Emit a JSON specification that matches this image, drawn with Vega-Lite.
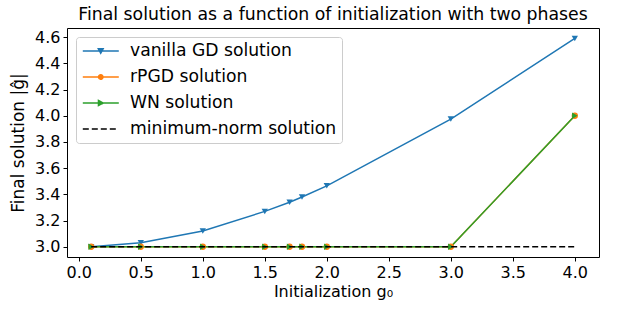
{
  "$schema": "https://vega.github.io/schema/vega-lite/v6.json",
  "width": 532,
  "height": 229,
  "autosize": {"type": "none"},
  "padding": {"left": 67, "top": 28, "right": 24, "bottom": 55},
  "background": "white",
  "title": {"text": "Final solution as a function of initialization with two phases", "fontSize": 17.3, "fontWeight": "normal", "font": "DejaVu Sans", "color": "black", "offset": 5},
  "config": {
    "view": {"stroke": "black", "strokeWidth": 1},
    "axis": {"domain": false, "grid": false, "tickColor": "black", "tickSize": 4, "tickWidth": 1, "labelFont": "DejaVu Sans", "labelFontSize": 16, "labelColor": "black", "titleFont": "DejaVu Sans", "titleFontSize": 16, "titleFontWeight": "normal", "titleColor": "black"}
  },
  "data": {"values": [
    {"series": "vanilla GD solution", "x": 0.1, "y": 3.0},
    {"series": "vanilla GD solution", "x": 0.5, "y": 3.03},
    {"series": "vanilla GD solution", "x": 1.0, "y": 3.12},
    {"series": "vanilla GD solution", "x": 1.5, "y": 3.27},
    {"series": "vanilla GD solution", "x": 1.7, "y": 3.34},
    {"series": "vanilla GD solution", "x": 1.8, "y": 3.38},
    {"series": "vanilla GD solution", "x": 2.0, "y": 3.465},
    {"series": "vanilla GD solution", "x": 3.0, "y": 3.975},
    {"series": "vanilla GD solution", "x": 4.0, "y": 4.59},
    {"series": "rPGD solution", "x": 0.1, "y": 3.0},
    {"series": "rPGD solution", "x": 0.5, "y": 3.0},
    {"series": "rPGD solution", "x": 1.0, "y": 3.0},
    {"series": "rPGD solution", "x": 1.5, "y": 3.0},
    {"series": "rPGD solution", "x": 1.7, "y": 3.0},
    {"series": "rPGD solution", "x": 1.8, "y": 3.0},
    {"series": "rPGD solution", "x": 2.0, "y": 3.0},
    {"series": "rPGD solution", "x": 3.0, "y": 3.0},
    {"series": "rPGD solution", "x": 4.0, "y": 4.0},
    {"series": "WN solution", "x": 0.1, "y": 3.0},
    {"series": "WN solution", "x": 0.5, "y": 3.0},
    {"series": "WN solution", "x": 1.0, "y": 3.0},
    {"series": "WN solution", "x": 1.5, "y": 3.0},
    {"series": "WN solution", "x": 1.7, "y": 3.0},
    {"series": "WN solution", "x": 1.8, "y": 3.0},
    {"series": "WN solution", "x": 2.0, "y": 3.0},
    {"series": "WN solution", "x": 3.0, "y": 3.0},
    {"series": "WN solution", "x": 4.0, "y": 4.0},
    {"series": "minimum-norm solution", "x": 0.1, "y": 3.0},
    {"series": "minimum-norm solution", "x": 4.0, "y": 3.0}
  ]},
  "encoding": {
    "x": {"field": "x", "type": "quantitative", "title": "Initialization g₀",
      "scale": {"domain": [-0.095, 4.195], "nice": false, "zero": false},
      "axis": {"values": [0, 0.5, 1, 1.5, 2, 2.5, 3, 3.5, 4], "format": ".1f", "labelPadding": 3, "titlePadding": 3}},
    "y": {"field": "y", "type": "quantitative", "title": "Final solution |ĝ|",
      "scale": {"domain": [2.922, 4.67], "nice": false, "zero": false},
      "axis": {"values": [3.0, 3.2, 3.4, 3.6, 3.8, 4.0, 4.2, 4.4, 4.6], "format": ".1f", "labelPadding": 3, "titlePadding": 7, "titleFontSize": 17}}
  },
  "layer": [
    {
      "transform": [{"filter": "datum.series !== 'minimum-norm solution'"}],
      "mark": {"type": "line", "strokeWidth": 1.5},
      "encoding": {
        "color": {"field": "series", "type": "nominal",
          "scale": {"domain": ["vanilla GD solution", "rPGD solution", "WN solution", "minimum-norm solution"], "range": ["#1f77b4", "#ff7f0e", "#2ca02c", "#000000"]},
          "legend": {
            "title": null, "orient": "top-left", "offset": 9,
            "labelFont": "DejaVu Sans", "labelFontSize": 17.2, "labelColor": "black", "labelOffset": 31, "labelLimit": 0,
            "symbolSize": 256, "symbolStrokeWidth": 1.5, "rowPadding": 8, "padding": 5,
            "strokeColor": "#cccccc", "fillColor": "white", "cornerRadius": 3,
            "encode": {"symbols": {"update": {
              "shape": {"signal": "datum.value === 'vanilla GD solution' ? 'M-0.9,0H3.6M1.04,-0.28H1.64L1.34,0.28Z' : datum.value === 'rPGD solution' ? 'M-0.9,0H3.6M1.06,0A0.28,0.28,0,1,0,1.62,0A0.28,0.28,0,1,0,1.06,0Z' : datum.value === 'WN solution' ? 'M-0.9,0H3.6M1.06,-0.32L1.66,0L1.06,0.32Z' : 'M-0.9,0H3.6'"},
              "fill": {"signal": "scale('color', datum.value)"},
              "fillOpacity": {"value": 1},
              "stroke": {"signal": "scale('color', datum.value)"},
              "strokeDash": {"signal": "datum.value === 'minimum-norm solution' ? [6, 3] : [1, 0]"}
            }}}
          }}
      }
    },
    {
      "transform": [{"filter": "datum.series !== 'minimum-norm solution'"}],
      "mark": {"type": "point", "filled": true, "opacity": 1, "size": 40},
      "encoding": {
        "color": {"field": "series", "type": "nominal"},
        "shape": {"field": "series", "type": "nominal",
          "scale": {"domain": ["vanilla GD solution", "rPGD solution", "WN solution"], "range": ["triangle-down", "circle", "triangle-right"]},
          "legend": null}
      }
    },
    {
      "transform": [{"filter": "datum.series === 'minimum-norm solution'"}],
      "mark": {"type": "line", "strokeWidth": 1.5, "strokeDash": [6, 3]},
      "encoding": {"color": {"field": "series", "type": "nominal"}}
    }
  ]
}
